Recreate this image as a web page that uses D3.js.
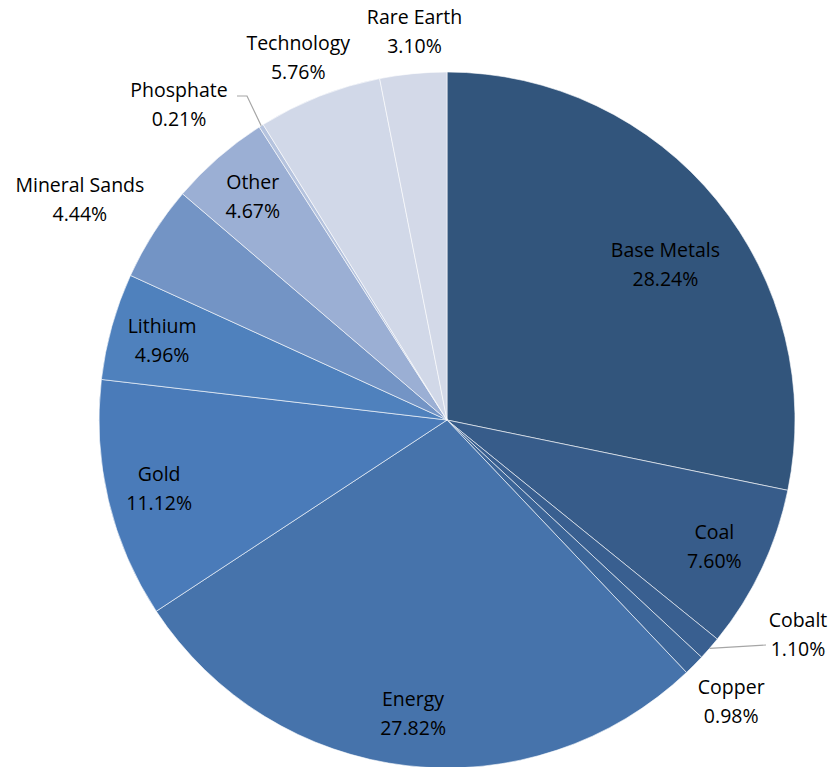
<!DOCTYPE html>
<html>
<head>
<meta charset="utf-8">
<script src="https://cdn.jsdelivr.net/npm/d3@7"></script>
<style>
  body { margin: 0; background: #ffffff; }
</style>
</head>
<body>
<script>
/* DATA */
var categories = ['Base Metals', 'Coal', 'Cobalt', 'Copper', 'Energy', 'Gold', 'Lithium',
                  'Mineral Sands', 'Other', 'Phosphate', 'Technology', 'Rare Earth'];
var shares = [28.24, 7.60, 1.10, 0.98, 27.82, 11.12, 4.96, 4.44, 4.67, 0.21, 5.76, 3.10];
var sliceColors = ['#32557c', '#375c8a', '#395f90', '#3c6598', '#4673ab', '#4a7bb9', '#4f81bd',
                   '#7394c5', '#9bafd4', '#b5c3de', '#d1d8e8', '#d3d9e8'];

/* SIZING */
var width = 833;
var height = 767;
var cx = 447;
var cy = 420;
var radius = 348;
var labelFont = '19.5px "Open Sans"';
var lineGap = 29;

// label radius as a fraction of the pie radius, default inside labels sit at 0.85
var labelRadius = {
  'Base Metals': 0.77, 'Copper': 1.15, 'Mineral Sands': 1.23,
  'Technology': 1.125, 'Rare Earth': 1.12
};
// angle nudges (radians) where Excel shifted the label off the centroid line
var labelAngleShift = { 'Base Metals': 0.066, 'Mineral Sands': -0.028, 'Technology': -0.014, 'Rare Earth': 0.014 };

var rows = categories.map((c, i) => ({ name: c, value: shares[i], color: sliceColors[i] }));

var pie = d3.pie().sort(null).value(d => d.value);
var arcs = pie(rows);

var arcGen = d3.arc().innerRadius(0).outerRadius(radius);

var svg = d3.select('body').append('svg')
    .attr('width', width)
    .attr('height', height);

var chartGroup = svg.append('g').attr('transform', `translate(${cx}, ${cy})`);

chartGroup.selectAll('path.slice')
  .data(arcs)
  .enter().append('path')
    .attr('class', 'slice')
    .attr('d', arcGen)
    .attr('fill', d => d.data.color)
    .attr('stroke', '#ffffff')
    .attr('stroke-width', 0.6);

// polar helper, angle measured clockwise from 12 o'clock
var polar = (a, r) => [r * Math.sin(a), -r * Math.cos(a)];
var midAngle = d => (d.startAngle + d.endAngle) / 2;

function drawLabel(x, y, name, value, anchor) {
  var t = chartGroup.append('text')
    .attr('text-anchor', anchor || 'middle')
    .style('font', labelFont)
    .attr('fill', '#000000');
  t.append('tspan').attr('x', x).attr('y', y - lineGap / 2 + 7).text(name);
  t.append('tspan').attr('x', x).attr('y', y + lineGap / 2 + 7).text(d3.format('.2f')(value) + '%');
}

arcs.forEach(d => {
  var name = d.data.name;
  if (name === 'Cobalt' || name === 'Phosphate') return;
  var a = midAngle(d) + (labelAngleShift[name] || 0);
  var r = radius * (labelRadius[name] || 0.85);
  var p = polar(a, r);
  drawLabel(p[0], p[1], name, d.data.value);
});

// leader-line labels for the two thin slices
var leaderColor = '#a6a6a6';
arcs.filter(d => d.data.name === 'Cobalt' || d.data.name === 'Phosphate').forEach(d => {
  var a = midAngle(d);
  var edge = polar(a, radius);
  var pts, labelPos;
  if (d.data.name === 'Cobalt') {
    pts = [edge, [319, 225]];
    labelPos = [351, 214];
  } else {
    pts = [edge, [-200, -324], [-210, -324]];
    labelPos = [-268, -316];
  }
  chartGroup.append('path')
    .attr('d', d3.line()(pts))
    .attr('fill', 'none')
    .attr('stroke', leaderColor)
    .attr('stroke-width', 1.2);
  drawLabel(labelPos[0], labelPos[1], d.data.name, d.data.value);
});
</script>
</body>
</html>
